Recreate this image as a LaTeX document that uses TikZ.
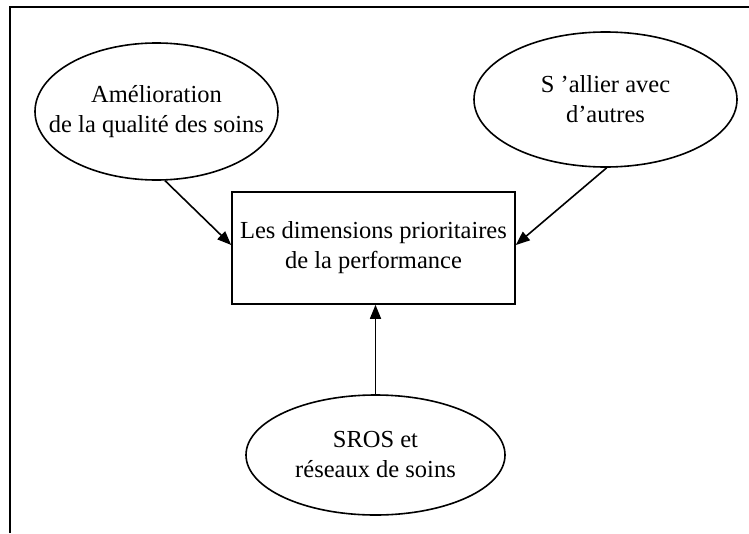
\documentclass[tikz,border=0pt]{standalone}
\usepackage{fontspec}
\setmainfont{Liberation Serif}
\usetikzlibrary{shapes.geometric,arrows.meta}
\begin{document}
\begin{tikzpicture}[x=1pt,y=-1pt,
  txt/.style={font=\fontsize{24.5}{30}\selectfont, align=center, inner sep=0pt},
  oval/.style={ellipse, draw, line width=1.6pt, inner sep=0pt},
  mainbox/.style={rectangle, draw, line width=1.6pt, txt},
  conn/.style={line width=1.6pt, -{Triangle[length=14pt,width=11pt]}}
]
\useasboundingbox (0,0) rectangle (749,533);
\draw[line width=2pt] (10,533) -- (10,7) -- (749,7);
\node[mainbox, minimum width=283pt, minimum height=112pt] (B) at (373.5,248) {Les dimensions prioritaires\\de la performance};
\node[oval, minimum width=243pt, minimum height=137pt] (L) at (156.5,111.5) {};
\node[txt] (Lt) at (L.center) {Amélioration\\de la qualité des soins};
\node[oval, minimum width=263pt, minimum height=135pt] (R) at (605.5,99.5) {};
\node[txt] (Rt) at (R.center) {S ’allier avec\\d’autres};
\node[oval, minimum width=259pt, minimum height=120pt] (S) at (375.5,455) {};
\node[txt] (St) at (S.center) {SROS et\\réseaux de soins};
\draw[conn] (L.-83) -- ([yshift=3pt]B.west);
\draw[conn] (R.-89) -- ([yshift=3pt]B.east);
\draw[conn] (S.north) -- (S.north |- B.south);
\end{tikzpicture}
\end{document}
